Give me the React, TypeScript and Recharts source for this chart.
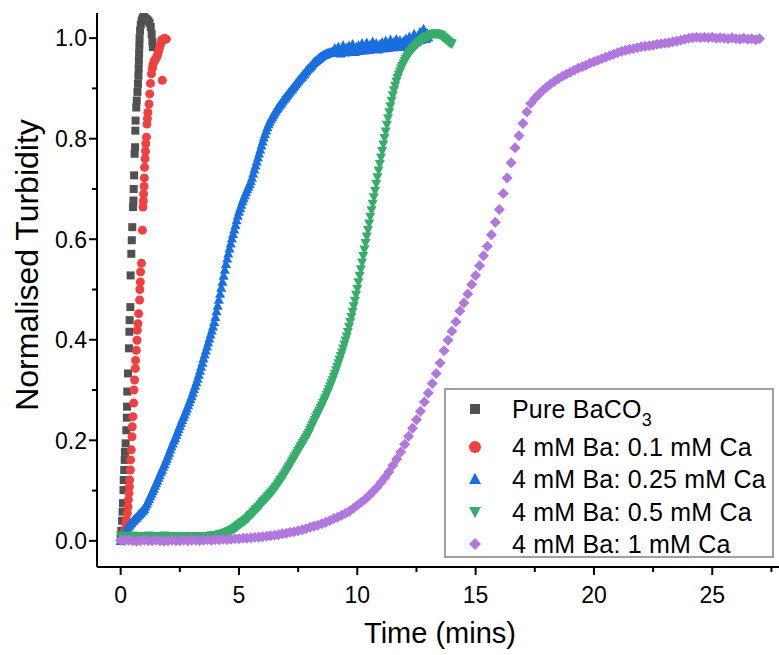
import { ScatterChart, Scatter, XAxis, YAxis, Label } from "recharts";

const FONT = '"Liberation Sans", Arial, Helvetica, sans-serif';

const COLORS = {
  pure: "#515151",
  ca01: "#F14040",
  ca025: "#1A6FDF",
  ca05: "#37AD6B",
  ca1: "#B177DE",
};

const xTicks = [0, 2.5, 5, 7.5, 10, 12.5, 15, 17.5, 20, 22.5, 25, 27.5];
const yTicks = [0, 0.1, 0.2, 0.3, 0.4, 0.5, 0.6, 0.7, 0.8, 0.9, 1.0];

const seriesNames = [
  "Pure BaCO3",
  "4 mM Ba: 0.1 mM Ca",
  "4 mM Ba: 0.25 mM Ca",
  "4 mM Ba: 0.5 mM Ca",
  "4 mM Ba: 1 mM Ca",
];

// Pure BaCO3 (irregular sampling read point by point)
const pureTime = [
  0.0, 0.03, 0.06, 0.08, 0.1, 0.12, 0.13, 0.15, 0.17, 0.18, 0.21, 0.24, 0.26, 0.27,
  0.28, 0.31, 0.35, 0.37, 0.38, 0.41, 0.42, 0.45, 0.47, 0.49, 0.52, 0.54, 0.55, 0.57,
  0.59, 0.61, 0.62, 0.63, 0.66, 0.68, 0.71, 0.73, 0.75, 0.76, 0.77, 0.78, 0.79, 0.8,
  0.82, 0.85, 0.89, 0.93, 0.98, 1.02, 1.07, 1.12, 1.17, 1.22, 1.27, 1.31, 1.34, 1.36,
];
const pureTurbidity = [
  0.005, 0.02, 0.04, 0.058, 0.075, 0.101, 0.121, 0.141, 0.161, 0.177, 0.194, 0.22,
  0.245, 0.267, 0.297, 0.333, 0.383, 0.416, 0.439, 0.465, 0.528, 0.571, 0.598, 0.624,
  0.664, 0.677, 0.7, 0.727, 0.77, 0.783, 0.816, 0.836, 0.862, 0.876, 0.893, 0.909,
  0.925, 0.94, 0.955, 0.97, 0.985, 1.0, 1.015, 1.027, 1.035, 1.04, 1.042, 1.04, 1.038,
  1.036, 1.034, 1.03, 1.022, 1.008, 0.993, 0.982,
];

// 4 mM Ba : 0.1 mM Ca
const ca01Time = [
  0.08, 0.14, 0.18, 0.22, 0.24, 0.28, 0.31, 0.33, 0.35, 0.37, 0.38, 0.41, 0.42, 0.45,
  0.48, 0.49, 0.52, 0.55, 0.56, 0.59, 0.62, 0.63, 0.66, 0.69, 0.7, 0.73, 0.76, 0.8,
  0.81, 0.83, 0.84, 0.88, 0.92, 0.94, 0.96, 0.97, 0.99, 1.0, 1.01, 1.03, 1.05, 1.06,
  1.09, 1.11, 1.13, 1.15, 1.2, 1.23, 1.26, 1.3, 1.34, 1.37, 1.42, 1.47, 1.52, 1.56,
  1.6, 1.64, 1.68, 1.72, 1.74, 1.76, 1.8, 1.86, 1.93,
];
const ca01Turbidity = [
  0.005, 0.012, 0.022, 0.033, 0.042, 0.055, 0.068, 0.082, 0.095, 0.108, 0.121, 0.141,
  0.161, 0.181, 0.207, 0.227, 0.247, 0.274, 0.3, 0.32, 0.343, 0.359, 0.379, 0.399,
  0.419, 0.432, 0.452, 0.479, 0.5, 0.515, 0.535, 0.552, 0.618, 0.664, 0.676, 0.69,
  0.705, 0.722, 0.743, 0.76, 0.775, 0.79, 0.803, 0.829, 0.84, 0.852, 0.869, 0.889,
  0.91, 0.929, 0.94, 0.948, 0.955, 0.958, 0.962, 0.967, 0.973, 0.98, 0.987, 0.993,
  0.997, 0.916, 0.996, 1.0, 0.998,
];

// 4 mM Ba : 0.25 mM Ca, sampled every 0.05 min
const ca025Step = 0.05;
const ca025Turbidity = [
  0.0, 0.006, 0.011, 0.016, 0.02, 0.024, 0.027, 0.03, 0.033, 0.036, 0.039, 0.041, 0.044, 0.046, 0.049, 0.051, 0.054, 0.056, 0.059, 0.061,
  0.064, 0.069, 0.074, 0.079, 0.084, 0.089, 0.094, 0.099, 0.104, 0.11, 0.115, 0.12, 0.126, 0.131, 0.137, 0.142, 0.148, 0.153, 0.159, 0.164,
  0.17, 0.176, 0.182, 0.188, 0.194, 0.2, 0.205, 0.211, 0.217, 0.223, 0.229, 0.235, 0.241, 0.247, 0.252, 0.258, 0.264, 0.27, 0.276, 0.282,
  0.288, 0.295, 0.302, 0.309, 0.316, 0.323, 0.331, 0.339, 0.347, 0.355, 0.363, 0.371, 0.379, 0.387, 0.395, 0.403, 0.411, 0.419, 0.427, 0.436,
  0.446, 0.457, 0.468, 0.48, 0.492, 0.504, 0.516, 0.528, 0.54, 0.551, 0.562, 0.572, 0.582, 0.592, 0.602, 0.611, 0.62, 0.629, 0.638, 0.647,
  0.655, 0.662, 0.669, 0.676, 0.682, 0.688, 0.694, 0.7, 0.705, 0.71, 0.716, 0.723, 0.731, 0.739, 0.747, 0.755, 0.763, 0.771, 0.779, 0.787,
  0.795, 0.803, 0.81, 0.817, 0.823, 0.829, 0.834, 0.839, 0.843, 0.847, 0.851, 0.855, 0.859, 0.862, 0.866, 0.869, 0.872, 0.876, 0.879, 0.882,
  0.885, 0.888, 0.891, 0.894, 0.897, 0.9, 0.903, 0.906, 0.909, 0.912, 0.915, 0.918, 0.92, 0.923, 0.926, 0.929, 0.932, 0.935, 0.938, 0.94,
  0.942, 0.945, 0.948, 0.951, 0.953, 0.955, 0.957, 0.959, 0.961, 0.963, 0.964, 0.966, 0.967, 0.968, 0.969, 0.97, 0.971, 0.972, 0.972, 0.973,
  0.974, 0.98, 0.971, 0.977, 0.983, 0.975, 0.97, 0.979, 0.986, 0.976, 0.972, 0.981, 0.977, 0.985, 0.974, 0.979, 0.988, 0.976, 0.973, 0.982,
  0.978, 0.986, 0.975, 0.983, 0.99, 0.979, 0.976, 0.985, 0.991, 0.98, 0.977, 0.987, 0.982, 0.993, 0.979, 0.984, 0.99, 0.981, 0.978, 0.988,
  0.983, 0.992, 0.98, 0.987, 0.995, 0.984, 0.981, 0.99, 0.997, 0.985, 0.982, 0.993, 0.987, 0.998, 0.984, 0.989, 0.996, 0.986, 0.983, 0.994,
  0.99, 0.999, 0.987, 0.995, 1.003, 0.992, 0.989, 0.998, 1.008, 0.995, 0.993, 1.004, 0.998, 1.012, 0.997, 1.003, 1.018, 1.002, 0.999, 1.01,
  1.002,
];

// 4 mM Ba : 0.5 mM Ca, sampled every 0.05 min
const ca05Step = 0.05;
const ca05Turbidity = [
  0.01, 0.008, 0.007, 0.009, 0.008, 0.006, 0.008, 0.009, 0.007, 0.008, 0.01, 0.008, 0.007, 0.009, 0.008, 0.007, 0.009, 0.008, 0.006, 0.008,
  0.008, 0.009, 0.007, 0.008, 0.01, 0.008, 0.007, 0.009, 0.008, 0.006, 0.008, 0.009, 0.007, 0.008, 0.009, 0.007, 0.008, 0.01, 0.008, 0.007,
  0.008, 0.007, 0.009, 0.008, 0.006, 0.008, 0.009, 0.007, 0.008, 0.007, 0.009, 0.008, 0.006, 0.008, 0.009, 0.007, 0.008, 0.008, 0.007, 0.009,
  0.008, 0.007, 0.008, 0.009, 0.007, 0.008, 0.008, 0.009, 0.007, 0.008, 0.009, 0.008, 0.008, 0.009, 0.008, 0.009, 0.01, 0.009, 0.01, 0.01,
  0.01, 0.011, 0.011, 0.012, 0.012, 0.013, 0.014, 0.014, 0.015, 0.016, 0.017, 0.018, 0.019, 0.02, 0.021, 0.023, 0.024, 0.026, 0.027, 0.029,
  0.031, 0.033, 0.035, 0.037, 0.038, 0.04, 0.042, 0.044, 0.046, 0.049, 0.051, 0.053, 0.056, 0.058, 0.061, 0.063, 0.066, 0.068, 0.071, 0.074,
  0.077, 0.079, 0.082, 0.084, 0.087, 0.089, 0.092, 0.094, 0.097, 0.1, 0.103, 0.106, 0.109, 0.113, 0.116, 0.12, 0.123, 0.127, 0.13, 0.134,
  0.138, 0.142, 0.146, 0.15, 0.154, 0.158, 0.162, 0.166, 0.17, 0.174, 0.178, 0.182, 0.186, 0.19, 0.194, 0.198, 0.202, 0.206, 0.21, 0.214,
  0.22, 0.225, 0.23, 0.235, 0.24, 0.245, 0.25, 0.254, 0.259, 0.264, 0.269, 0.274, 0.279, 0.284, 0.29, 0.295, 0.301, 0.307, 0.313, 0.319,
  0.326, 0.332, 0.339, 0.346, 0.353, 0.36, 0.367, 0.374, 0.382, 0.39, 0.398, 0.406, 0.415, 0.425, 0.435, 0.445, 0.455, 0.466, 0.477, 0.489,
  0.501, 0.514, 0.527, 0.54, 0.553, 0.566, 0.579, 0.592, 0.605, 0.618, 0.631, 0.644, 0.657, 0.67, 0.683, 0.696, 0.71, 0.723, 0.736, 0.749,
  0.762, 0.775, 0.788, 0.801, 0.814, 0.827, 0.84, 0.852, 0.864, 0.875, 0.886, 0.896, 0.905, 0.913, 0.92, 0.927, 0.933, 0.939, 0.944, 0.949,
  0.954, 0.958, 0.962, 0.966, 0.97, 0.973, 0.976, 0.979, 0.982, 0.985, 0.987, 0.989, 0.991, 0.993, 0.995, 0.997, 0.999, 1.0, 1.002, 1.003,
  1.004, 1.005, 1.006, 1.007, 1.008, 1.008, 1.009, 1.008, 1.008, 1.007, 1.006, 1.005, 1.003, 1.001, 0.999, 0.997, 0.995, 0.993, 0.991, 0.99,
  0.989,
];

// 4 mM Ba : 1 mM Ca, sampled every 10 s
const ca1Step = 1 / 6;
const ca1Turbidity = [
  0.001, 0.0, 0.001, 0.0, -0.001, 0.0, 0.001, 0.0, 0.0, 0.001, 0.0, -0.001,
  0.0, 0.001, 0.0, 0.0, 0.001, 0.0, 0.001, 0.001, 0.0, 0.001, 0.002, 0.001,
  0.002, 0.002, 0.003, 0.002, 0.003, 0.004, 0.004, 0.005, 0.005, 0.006, 0.007, 0.007,
  0.008, 0.009, 0.01, 0.011, 0.012, 0.014, 0.015, 0.017, 0.018, 0.02, 0.022, 0.024,
  0.027, 0.029, 0.031, 0.034, 0.037, 0.04, 0.044, 0.047, 0.051, 0.055, 0.059, 0.065,
  0.071, 0.077, 0.083, 0.09, 0.098, 0.106, 0.116, 0.126, 0.137, 0.15, 0.163, 0.177,
  0.192, 0.208, 0.224, 0.241, 0.258, 0.276, 0.294, 0.313, 0.333, 0.354, 0.378, 0.399,
  0.417, 0.436, 0.457, 0.473, 0.491, 0.51, 0.528, 0.547, 0.567, 0.586, 0.609, 0.634,
  0.659, 0.691, 0.722, 0.752, 0.782, 0.806, 0.83, 0.853, 0.87, 0.88, 0.888, 0.896,
  0.903, 0.909, 0.914, 0.919, 0.924, 0.928, 0.932, 0.936, 0.94, 0.943, 0.946, 0.95,
  0.953, 0.956, 0.959, 0.962, 0.965, 0.968, 0.971, 0.974, 0.976, 0.978, 0.979, 0.981,
  0.983, 0.984, 0.985, 0.986, 0.988, 0.989, 0.99, 0.991, 0.993, 0.994, 0.996, 0.998,
  1.0, 1.001, 1.002, 1.001, 1.002, 1.001, 1.002, 1.0, 1.001, 1.0, 0.999, 1.001,
  0.999, 0.998, 1.0, 0.998, 0.999, 0.997, 0.999,
];

const paired = (times: number[], values: number[]) =>
  values.map((v, i) => ({ t: times[i], v }));
const sampled = (step: number, values: number[]) =>
  values.map((v, i) => ({ t: Math.round(i * step * 1000) / 1000, v }));

const pureData = paired(pureTime, pureTurbidity);
const ca01Data = paired(ca01Time, ca01Turbidity);
const ca025Data = sampled(ca025Step, ca025Turbidity);
const ca05Data = sampled(ca05Step, ca05Turbidity);
const ca1Data = sampled(ca1Step, ca1Turbidity);

type Kind = "square" | "circle" | "up" | "down" | "diamond";

function Marker({ kind, x, y, s, color }: { kind: Kind; x: number; y: number; s: number; color: string }) {
  const h = s / 2;
  if (kind === "square") return <rect x={x - h} y={y - h} width={s} height={s} fill={color} />;
  if (kind === "circle") return <circle cx={x} cy={y} r={h} fill={color} />;
  if (kind === "up")
    return <path d={`M${x},${y - h * 1.05}L${x + h},${y + h * 0.85}L${x - h},${y + h * 0.85}Z`} fill={color} />;
  if (kind === "down")
    return <path d={`M${x},${y + h * 1.05}L${x + h},${y - h * 0.85}L${x - h},${y - h * 0.85}Z`} fill={color} />;
  return <path d={`M${x},${y - h}L${x + h},${y}L${x},${y + h}L${x - h},${y}Z`} fill={color} />;
}

const shapeOf = (kind: Kind, s: number, color: string) => (p: any) =>
  <Marker kind={kind} x={p.cx} y={p.cy} s={s} color={color} />;

const XTick = (props: any) => {
  const { x, y, payload } = props;
  const major = payload.value % 5 === 0;
  return (
    <g>
      <line x1={x} y1={y} x2={x} y2={y + (major ? 8 : 5)} stroke="#000" strokeWidth={2} />
      {major && (
        <text x={x} y={y + 36} textAnchor="middle" fontSize={23} fontFamily={FONT} fill="#000">
          {payload.value}
        </text>
      )}
    </g>
  );
};

const YTick = (props: any) => {
  const { x, y, payload } = props;
  const major = Math.round(payload.value * 10) % 2 === 0;
  return (
    <g>
      <line x1={x} y1={y} x2={x - (major ? 8 : 5)} y2={y} stroke="#000" strokeWidth={2} />
      {major && (
        <text x={x - 10} y={y} dy="0.36em" textAnchor="end" fontSize={23} fontFamily={FONT} fill="#000">
          {payload.value.toFixed(1)}
        </text>
      )}
    </g>
  );
};

const legendRows: { kind: Kind; color: string; top: number }[] = [
  { kind: "square", color: COLORS.pure, top: 19 },
  { kind: "circle", color: COLORS.ca01, top: 57 },
  { kind: "up", color: COLORS.ca025, top: 89 },
  { kind: "down", color: COLORS.ca05, top: 122 },
  { kind: "diamond", color: COLORS.ca1, top: 154 },
];

function LegendBox() {
  return (
    <div
      style={{
        position: "absolute",
        left: 444,
        top: 388,
        width: 330,
        height: 170,
        boxSizing: "border-box",
        border: "2px solid #a0a0a0",
        background: "#fff",
        fontFamily: FONT,
        fontSize: 25,
        letterSpacing: 0.2,
        color: "#000",
      }}
    >
      {legendRows.map((r, i) => (
        <div key={i} style={{ position: "absolute", left: 0, top: r.top - 17, height: 34, width: 326 }}>
          <svg width={24} height={24} style={{ position: "absolute", left: 17, top: 5 }}>
            <Marker kind={r.kind} x={12} y={12} s={r.kind === "square" ? 10 : 12} color={r.color} />
          </svg>
          <span style={{ position: "absolute", left: 66, top: 0, lineHeight: "34px", whiteSpace: "nowrap" }}>
            {i === 0 ? (
              <>
                Pure BaCO<span style={{ fontSize: 18, position: "relative", top: 8 }}>3</span>
              </>
            ) : (
              seriesNames[i]
            )}
          </span>
        </div>
      ))}
    </div>
  );
}

export default function App() {
  return (
    <div style={{ position: "absolute", left: 0, top: 0, width: 779, height: 655, background: "#fff" }}>
      <ScatterChart width={779} height={655} margin={{ top: 13, right: 0, bottom: 0, left: 0 }}>
        <XAxis
          type="number"
          dataKey="t"
          domain={[-1, 27.82]}
          allowDataOverflow
          ticks={xTicks}
          interval={0}
          height={88}
          tickSize={0}
          tickMargin={0}
          tickLine={false}
          tick={XTick}
          axisLine={{ stroke: "#000", strokeWidth: 2 }}
        >
          <Label
            content={() => (
              <text x={440} y={643} textAnchor="middle" fontSize={29} fontFamily={FONT} fill="#000">
                Time (mins)
              </text>
            )}
          />
        </XAxis>
        <XAxis
          xAxisId="top"
          orientation="top"
          type="number"
          domain={[-1, 27.82]}
          allowDataOverflow
          height={0}
          tick={false}
          tickLine={false}
          axisLine={{ stroke: "#000", strokeWidth: 2 }}
        />
        <YAxis
          type="number"
          dataKey="v"
          domain={[-0.052, 1.05]}
          allowDataOverflow
          ticks={yTicks}
          interval={0}
          width={97}
          tickSize={0}
          tickMargin={0}
          tickLine={false}
          tick={YTick}
          axisLine={{ stroke: "#000", strokeWidth: 2 }}
        >
          <Label
            content={() => (
              <text
                x={38}
                y={265}
                transform="rotate(-90 38 265)"
                textAnchor="middle"
                fontSize={32}
                fontFamily={FONT}
                fill="#000"
              >
                Normalised Turbidity
              </text>
            )}
          />
        </YAxis>
        <Scatter data={pureData} shape={shapeOf("square", 8, COLORS.pure)} isAnimationActive={false} />
        <Scatter data={ca01Data} shape={shapeOf("circle", 9, COLORS.ca01)} isAnimationActive={false} />
        <Scatter data={ca025Data} shape={shapeOf("up", 10, COLORS.ca025)} isAnimationActive={false} />
        <Scatter data={ca05Data} shape={shapeOf("down", 10, COLORS.ca05)} isAnimationActive={false} />
        <Scatter data={ca1Data} shape={shapeOf("diamond", 11, COLORS.ca1)} isAnimationActive={false} />
      </ScatterChart>
      <LegendBox />
    </div>
  );
}
